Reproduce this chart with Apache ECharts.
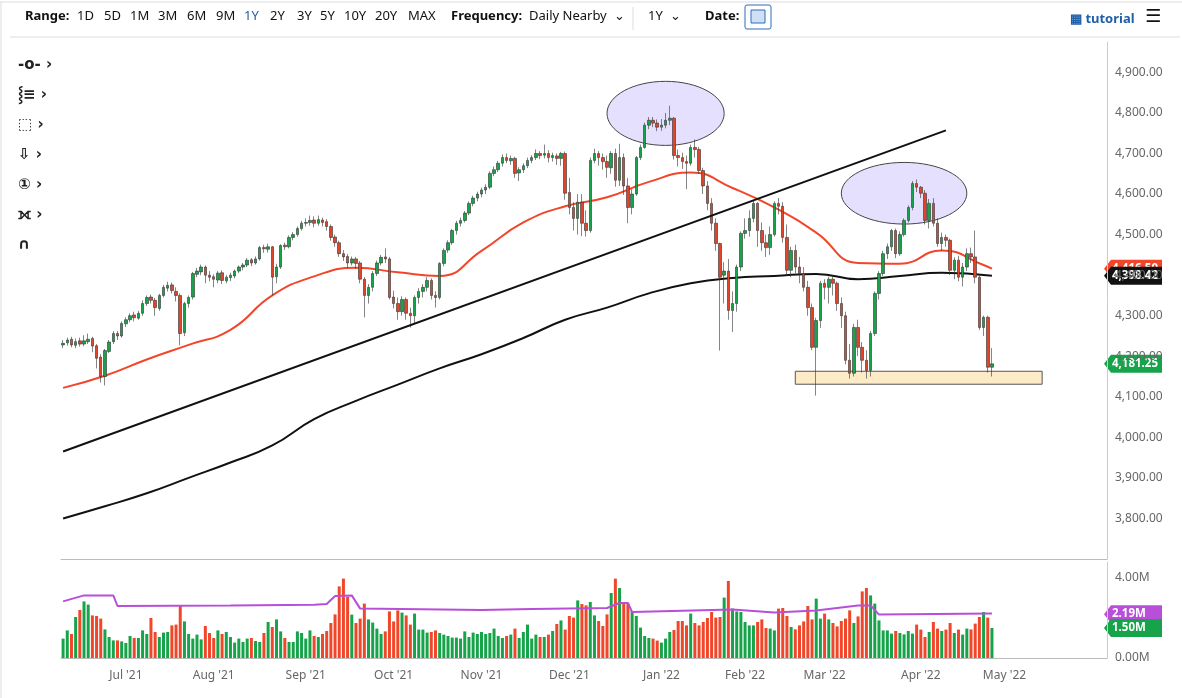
<!DOCTYPE html>
<html>
<head>
<meta charset="utf-8">
<script src="https://cdn.jsdelivr.net/npm/echarts@6/dist/echarts.min.js"></script>
<style>
	html, body { margin: 0; padding: 0; background: #fff; }
	#main { width: 1182px; height: 698px; }
</style>
</head>
<body>
<div id="main"></div>
<script>
	// daily candles [open, close, low, high], Jun 10 2021 .. Apr 27 2022
	var candles = [
		[4228,4232,4220,4240],[4233,4240,4226,4246],[4242,4228,4222,4248],[4227,4236,4220,4244],[4238,4230,4224,4246],
		[4230,4238,4225,4252],[4236,4242,4230,4256],[4244,4225,4210,4248],[4226,4195,4170,4230],[4198,4150,4135,4205],
		[4150,4214,4128,4218],[4212,4235,4208,4240],[4236,4256,4230,4262],[4256,4250,4240,4262],[4250,4281,4246,4286],
		[4280,4290,4272,4296],[4290,4300,4284,4306],[4302,4295,4286,4310],[4294,4306,4290,4312],[4306,4330,4300,4338],
		[4330,4345,4324,4350],[4346,4338,4330,4352],[4338,4320,4300,4344],[4318,4350,4312,4354],[4350,4370,4345,4376],
		[4368,4375,4360,4384],[4376,4362,4355,4382],[4360,4350,4335,4370],[4350,4256,4227,4355],[4258,4330,4250,4334],
		[4330,4345,4320,4350],[4346,4404,4340,4408],[4402,4410,4395,4418],[4408,4420,4400,4426],[4420,4400,4380,4424],
		[4400,4395,4385,4410],[4396,4390,4370,4402],[4388,4405,4380,4410],[4406,4387,4378,4412],[4386,4395,4380,4400],
		[4394,4400,4385,4406],[4398,4410,4392,4414],[4410,4420,4405,4424],[4420,4425,4412,4430],[4425,4437,4420,4442],
		[4438,4430,4422,4442],[4430,4440,4426,4446],[4440,4468,4436,4472],[4468,4465,4455,4475],[4464,4470,4456,4478],
		[4470,4395,4350,4472],[4396,4420,4380,4428],[4420,4473,4415,4476],[4474,4470,4462,4480],[4470,4493,4466,4498],
		[4493,4500,4486,4506],[4500,4515,4495,4520],[4515,4528,4510,4534],[4528,4530,4520,4540],[4530,4535,4522,4547],
		[4536,4528,4518,4545],[4528,4537,4522,4547],[4536,4530,4520,4542],[4532,4520,4510,4538],[4520,4493,4485,4525],
		[4494,4480,4470,4500],[4480,4453,4445,4485],[4453,4445,4435,4462],[4446,4430,4418,4452],[4430,4440,4424,4446],
		[4440,4429,4415,4445],[4430,4390,4380,4435],[4390,4350,4296,4395],[4350,4370,4330,4378],[4370,4404,4360,4410],
		[4404,4430,4398,4436],[4430,4444,4424,4450],[4445,4440,4430,4466],[4440,4345,4340,4445],[4346,4330,4318,4362],
		[4330,4310,4290,4345],[4310,4340,4300,4348],[4340,4306,4290,4345],[4306,4300,4271,4320],[4300,4345,4280,4350],
		[4345,4360,4330,4368],[4360,4370,4345,4378],[4370,4387,4360,4395],[4387,4350,4340,4392],[4350,4345,4320,4360],
		[4345,4429,4340,4432],[4429,4461,4422,4466],[4462,4480,4455,4486],[4480,4510,4475,4514],[4510,4528,4500,4534],
		[4528,4535,4520,4542],[4535,4553,4530,4558],[4553,4577,4548,4582],[4577,4590,4570,4596],[4590,4600,4582,4606],
		[4600,4610,4592,4616],[4610,4617,4600,4624],[4617,4651,4612,4656],[4651,4660,4644,4668],[4660,4676,4654,4682],
		[4676,4690,4668,4698],[4690,4683,4676,4700],[4682,4688,4672,4695],[4688,4651,4640,4692],[4652,4660,4632,4666],
		[4660,4670,4652,4676],[4670,4683,4664,4690],[4683,4690,4676,4696],[4690,4700,4684,4710],[4700,4695,4686,4706],
		[4696,4700,4688,4722],[4700,4690,4678,4708],[4690,4695,4680,4702],[4694,4688,4672,4700],[4688,4700,4670,4704],
		[4700,4602,4586,4705],[4604,4567,4550,4640],[4567,4540,4510,4580],[4540,4580,4500,4600],[4580,4528,4496,4600],
		[4528,4510,4495,4560],[4510,4683,4505,4690],[4683,4700,4676,4712],[4700,4690,4670,4706],[4690,4680,4660,4700],
		[4680,4666,4640,4695],[4665,4700,4650,4706],[4700,4634,4618,4712],[4634,4690,4620,4724],[4690,4620,4598,4700],
		[4620,4567,4528,4640],[4567,4600,4550,4612],[4600,4690,4596,4694],[4690,4715,4684,4722],[4715,4770,4712,4776],
		[4770,4782,4760,4790],[4782,4775,4765,4790],[4775,4765,4755,4784],[4765,4770,4756,4785],[4770,4782,4762,4800],
		[4782,4787,4770,4818],[4787,4695,4685,4790],[4695,4690,4668,4710],[4690,4680,4662,4702],[4680,4676,4612,4695],
		[4676,4715,4670,4722],[4715,4710,4690,4735],[4710,4658,4650,4716],[4658,4620,4600,4665],[4620,4577,4560,4632],
		[4577,4528,4510,4590],[4528,4478,4460,4540],[4478,4395,4214,4480],[4400,4410,4330,4432],[4410,4313,4290,4440],
		[4313,4330,4260,4360],[4330,4420,4310,4426],[4420,4503,4410,4508],[4503,4510,4490,4540],[4510,4540,4495,4560],
		[4540,4577,4530,4584],[4577,4510,4470,4580],[4510,4480,4460,4530],[4480,4468,4445,4500],[4468,4500,4450,4520],
		[4500,4577,4495,4582],[4577,4570,4550,4590],[4570,4493,4480,4580],[4493,4412,4400,4525],[4412,4461,4395,4470],
		[4461,4420,4405,4475],[4420,4404,4380,4445],[4404,4370,4360,4420],[4370,4320,4300,4386],[4320,4222,4215,4330],
		[4222,4288,4103,4295],[4288,4380,4270,4386],[4380,4370,4340,4390],[4370,4390,4330,4396],[4390,4380,4350,4400],
		[4380,4330,4312,4384],[4330,4300,4270,4345],[4300,4190,4180,4310],[4190,4158,4145,4230],[4158,4271,4150,4280],
		[4271,4222,4200,4290],[4222,4190,4160,4235],[4190,4165,4145,4215],[4165,4256,4150,4262],[4256,4355,4250,4360],
		[4355,4404,4340,4410],[4404,4453,4398,4460],[4453,4470,4440,4478],[4470,4510,4460,4514],[4510,4453,4442,4515],
		[4453,4500,4448,4508],[4500,4535,4495,4540],[4535,4567,4530,4572],[4567,4626,4560,4632],[4626,4617,4605,4636],
		[4617,4602,4590,4620],[4602,4535,4525,4610],[4535,4577,4515,4588],[4577,4528,4520,4590],[4528,4478,4470,4540],
		[4478,4493,4460,4505],[4493,4486,4470,4500],[4486,4412,4400,4490],[4412,4437,4390,4444],[4437,4395,4385,4448],
		[4395,4420,4372,4430],[4420,4453,4410,4466],[4453,4445,4430,4468],[4445,4395,4380,4510],[4395,4271,4265,4400],
		[4271,4296,4250,4300],[4296,4173,4160,4300],[4173,4181.25,4150,4220]
	];

	// volume in millions
	var volumes = [
		0.97,1.38,1.2,2.05,2.4,2.83,2.67,2.13,2.1,1.97,1.43,1.05,.88,.88,.83,.75,1.1,1.0,1.0,1.38,
		1.2,2.0,1.3,1.05,1.27,1.3,1.63,1.67,2.63,1.83,1.2,.97,1.17,.93,1.6,1.25,1.0,1.38,1.2,1.3,
		1.05,.77,.97,.8,.97,1.0,.85,.8,1.25,1.8,1.55,1.93,1.33,1.0,.8,.8,1.33,1.25,.97,1.38,
		1.1,1.05,1.2,1.35,1.75,2.18,3.58,3.97,3.05,2.17,1.75,1.97,2.72,1.93,1.77,1.47,1.2,1.33,2.33,1.83,
		2.38,2.27,2.13,1.67,2.22,1.42,1.42,1.27,1.3,1.38,1.25,1.17,1.1,1.02,1.02,.97,1.33,1.05,1.27,1.2,
		1.3,1.2,1.25,
		1.47,1.1,1.0,1.1,1.17,1.47,1.0,1.3,1.67,.97,1.17,1.05,1.05,1.17,1.35,1.7,1.88,1.42,2.1,2.02,
		2.88,2.7,2.63,2.8,2.13,1.85,1.6,2.18,3.25,3.97,3.5,2.75,2.72,2.35,2.1,1.52,1.1,1.0,.97,.87,
		.77,.97,1.3,1.4,1.85,1.85,1.63,2.22,1.75,1.63,1.8,2.0,2.3,2.02,2.05,3.02,3.85,2.47,2.33,2.3,
		1.8,1.63,1.63,1.8,1.93,1.5,1.47,1.38,2.47,2.5,2.1,1.55,1.43,1.63,1.83,2.6,1.93,2.97,1.97,2.22,
		1.93,1.75,1.58,1.85,1.97,2.38,1.75,2.08,3.33,3.5,3.13,2.72,1.88,1.38,1.38,1.22,1.35,1.25,1.18,1.35,
		1.22,1.67,1.42,1.05,1.3,1.8,1.47,1.35,1.42,1.75,1.25,1.42,1.17,1.47,1.43,1.72,2.05,2.3,2.02,1.5
	];

	// moving averages read at sampled bar indexes
	var ma50Idx = [0,10,20,30,40,50,60,70,80,90,100,110,120,130,140,150,160,170,180,190,200,210,220,222];
	var ma50Val = [4122,4152,4192,4228,4265,4350,4397,4418,4407,4398,4460,4530,4570,4592,4630,4653,4615,4567,4505,4430,4428,4461,4425,4416];
	var ma200Idx = [0,10,20,30,40,50,60,70,80,90,100,110,120,130,140,150,160,170,180,190,200,210,222];
	var ma200Val = [3800,3830,3862,3900,3938,3980,4045,4090,4130,4170,4205,4245,4290,4320,4355,4380,4393,4398,4403,4390,4398,4406,4398.42];
	var volMaIdx = [0,5,12,13,40,60,63,65,69,71,100,112,130,133,135,136,160,170,180,190,193,195,222];
	var volMaVal = [2.83,3.13,3.13,2.6,2.62,2.66,2.7,3.1,3.13,2.47,2.4,2.45,2.5,2.75,2.75,2.3,2.42,2.27,2.38,2.63,2.63,2.17,2.22];

	var priceTicks = [3800,3900,4000,4100,4200,4300,4400,4500,4600,4700,4800,4900];
	var volTicks = [0,4];

	var holidays = ['2021-07-05','2021-09-06','2021-11-25','2021-12-24','2022-01-17','2022-02-21','2022-04-15','2022-05-30'];
	var months = ['Jan','Feb','Mar','Apr','May','Jun','Jul','Aug','Sep','Oct','Nov','Dec'];

	var dates = [];
	var d = new Date(Date.UTC(2021, 5, 10));
	while(dates.length < 250) {
		var wd = d.getUTCDay();
		var s = d.toISOString().slice(0, 10);
		if(wd != 0 && wd != 6 && holidays.indexOf(s) < 0) {
			dates.push(s);
		}
		d.setUTCDate(d.getUTCDate() + 1);
	}

	function sparse(idx, vals) {
		var arr = [];
		for(var i = 0; i < candles.length; i++) arr.push(null);
		for(var j = 0; j < idx.length; j++) arr[idx[j]] = vals[j];
		return arr;
	}

	var volData = [];
	for(var i = 0; i < candles.length && i < volumes.length; i++) {
		var up = candles[i][1] >= candles[i][0];
		volData.push({ value: volumes[i], itemStyle: { color: up ? '#17a34a' : '#f0462a' } });
	}

	function monthLabel(idx, val) {
		if(idx == 0 || idx > 240) return false;
		return val.slice(5, 7) != dates[idx - 1].slice(5, 7);
	}

	function fmtNum(v) {
		return v.toLocaleString('en-US', { minimumFractionDigits: 2, maximumFractionDigits: 2 });
	}

	var chart = echarts.init(document.getElementById('main'));
	var font = 'Noto Sans';

	var option = {
		animation: false,
		textStyle: { fontFamily: font },
		grid: [
			{ left: 61, right: 75, top: 42, height: 517 },
			{ left: 61, right: 75, top: 562, height: 96 }
		],
		xAxis: [{
			type: 'category', gridIndex: 0, data: dates, boundaryGap: true,
			axisLine: { show: true, lineStyle: { color: '#bbb' } },
			axisTick: { show: false }, axisLabel: { show: false }, splitLine: { show: false }
		}, {
			type: 'category', gridIndex: 1, data: dates, boundaryGap: true,
			axisLine: { lineStyle: { color: '#bbb' } },
			axisTick: { interval: monthLabel, length: 4, lineStyle: { color: '#bbb' } },
			axisLabel: {
				interval: monthLabel, color: '#666', fontSize: 12, margin: 12,
				formatter: function(v) {
					return months[parseInt(v.slice(5, 7), 10) - 1] + " '" + v.slice(2, 4);
				}
			}
		}],
		yAxis: [{
			type: 'value', gridIndex: 0, position: 'right', min: 3700, max: 4975, interval: 100,
			axisLine: { show: true, lineStyle: { color: '#ccc' } },
			axisTick: { show: false }, splitLine: { show: false },
			axisLabel: {
				color: '#666', fontSize: 12, margin: 8, showMinLabel: false, showMaxLabel: false,
				formatter: function(v) { return priceTicks.indexOf(v) >= 0 ? fmtNum(v) : ''; }
			}
		}, {
			type: 'value', gridIndex: 1, position: 'right', min: 0, max: 4.8, interval: 4,
			axisLine: { show: true, lineStyle: { color: '#ccc' } },
			axisTick: { show: false }, splitLine: { show: false },
			axisLabel: {
				color: '#666', fontSize: 12, margin: 8, showMaxLabel: false,
				formatter: function(v) { return volTicks.indexOf(v) >= 0 ? v.toFixed(2) + 'M' : ''; }
			}
		}],
		series: [{
			name: 'MA200', type: 'line', xAxisIndex: 0, yAxisIndex: 0,
			data: sparse(ma200Idx, ma200Val), connectNulls: true, smooth: true,
			showSymbol: false, lineStyle: { color: '#111', width: 2 }, z: 2
		}, {
			name: 'MA50', type: 'line', xAxisIndex: 0, yAxisIndex: 0,
			data: sparse(ma50Idx, ma50Val), connectNulls: true, smooth: true,
			showSymbol: false, lineStyle: { color: '#f2462a', width: 2 }, z: 2
		}, {
			name: 'price', type: 'candlestick', xAxisIndex: 0, yAxisIndex: 0,
			data: candles, barWidth: 3,
			itemStyle: {
				color: '#17a34a', color0: '#e2442a',
				borderColor: '#333', borderColor0: '#333', borderWidth: 0.6
			},
			markLine: {
				silent: true, symbol: ['none', 'none'],
				lineStyle: { color: '#111', width: 2, type: 'solid' },
				label: { show: false },
				data: [[{ coord: [0, 3965] }, { coord: [211, 4757] }]]
			},
			z: 3
		}, {
			name: 'volume', type: 'bar', xAxisIndex: 1, yAxisIndex: 1,
			data: volData, barWidth: 3
		}, {
			name: 'volMA', type: 'line', xAxisIndex: 1, yAxisIndex: 1,
			data: sparse(volMaIdx, volMaVal), connectNulls: true,
			showSymbol: false, lineStyle: { color: '#b84fd8', width: 2 }
		}]
	};
	chart.setOption(option);

	function px(i, v) {
		return chart.convertToPixel({ xAxisIndex: 0, yAxisIndex: 0 }, [i, v]);
	}

	function ellipse(ci, cv, di, dv) {
		var c = px(ci, cv), e = px(ci + di, cv + dv);
		return {
			type: 'ellipse', z: 1,
			shape: { cx: c[0], cy: c[1], rx: e[0] - c[0], ry: c[1] - e[1] },
			style: { fill: 'rgba(222,214,255,0.75)', stroke: '#444', lineWidth: 1 }
		};
	}

	function badge(y, text, bg, fg) {
		return {
			type: 'group', x: 1104, y: y - 9, z: 20,
			children: [{
				type: 'polygon',
				shape: { points: [[0, 9], [7, 0], [58, 0], [58, 18], [7, 18]] },
				style: { fill: bg }
			}, {
				type: 'text', x: 8, y: 3,
				style: { text: text, fill: fg, font: 'bold 11.5px ' + font }
			}]
		};
	}

	var r1 = px(174.6, 4163), r2 = px(234, 4131);
	var vGreen = chart.convertToPixel({ xAxisIndex: 1, yAxisIndex: 1 }, [0, 1.5]);
	var vPurple = chart.convertToPixel({ xAxisIndex: 1, yAxisIndex: 1 }, [0, 2.19]);

	var header = [];
	var hx = [25, 77, 104, 130, 158, 187, 216, 244, 270, 297, 320, 344, 375, 408];
	var hs = ['Range:', '1D', '5D', '1M', '3M', '6M', '9M', '1Y', '2Y', '3Y', '5Y', '10Y', '20Y', 'MAX'];
	for(var k = 0; k < hs.length; k++) {
		header.push({
			type: 'text', x: hx[k], y: 10,
			style: {
				text: hs[k], font: (k == 0 ? 'bold ' : '') + '13px ' + font,
				fill: k == 7 ? '#1f5fa8' : '#111'
			}
		});
	}
	var tools = ['-o- ›', '⸾≡ ›', '⬚ ›', '⇩ ›', '① ›', '⟗ ›', '∩'];
	for(var t = 0; t < tools.length; t++) {
		header.push({
			type: 'text', x: 18, y: 58 + t * 30,
			style: { text: tools[t], font: 'bold 15px DejaVu Sans', fill: '#222' }
		});
	}

	chart.setOption({
		graphic: header.concat([
			{ type: 'line', shape: { x1: 0, y1: 2, x2: 1182, y2: 2 }, style: { stroke: '#ddd' } },
			{ type: 'line', shape: { x1: 10, y1: 37, x2: 1180, y2: 37 }, style: { stroke: '#ddd' } },
			{ type: 'line', shape: { x1: 1, y1: 2, x2: 1, y2: 698 }, style: { stroke: '#ddd' } },
			{ type: 'text', x: 451, y: 10, style: { text: 'Frequency:', font: 'bold 13px ' + font, fill: '#111' } },
			{ type: 'text', x: 529, y: 10, style: { text: 'Daily Nearby  ⌄', font: '13px ' + font, fill: '#111' } },
			{ type: 'line', shape: { x1: 633, y1: 7, x2: 633, y2: 30 }, style: { stroke: '#ddd' } },
			{ type: 'text', x: 648, y: 10, style: { text: '1Y  ⌄', font: '13px ' + font, fill: '#111' } },
			{ type: 'text', x: 705, y: 10, style: { text: 'Date:', font: 'bold 13px ' + font, fill: '#111' } },
			{ type: 'rect', shape: { x: 745, y: 5, width: 26, height: 24, r: 2 }, style: { fill: '#fff', stroke: '#2a6ebb' } },
			{ type: 'rect', shape: { x: 751, y: 10, width: 14, height: 13 }, style: { fill: '#cfe0f5', stroke: '#2a6ebb' } },
			{ type: 'text', x: 1070, y: 13, style: { text: '▦ tutorial', font: 'bold 13px ' + font, fill: '#1f5fa8' } },
			{ type: 'text', x: 1145, y: 8, style: { text: '☰', font: 'bold 18px DejaVu Sans', fill: '#111' } },
			ellipse(144, 4799, 14, 79),
			ellipse(201, 4602, 14.6, 76),
			{
				type: 'rect', z: 1,
				shape: { x: r1[0], y: r1[1], width: r2[0] - r1[0], height: r2[1] - r1[1] },
				style: { fill: '#fdebc8', stroke: '#555', lineWidth: 1 }
			},
			badge(px(0, 4416)[1], '4,416.50', '#f2462a', '#fff'),
			badge(px(0, 4398.42)[1], '4,398.42', '#111', '#fff'),
			badge(px(0, 4181.25)[1], '4,181.25', '#17a34a', '#fff'),
			badge(vPurple[1], '2.19M', '#b84fd8', '#fff'),
			badge(vGreen[1], '1.50M', '#17a34a', '#fff')
		])
	});
</script>
</body>
</html>
